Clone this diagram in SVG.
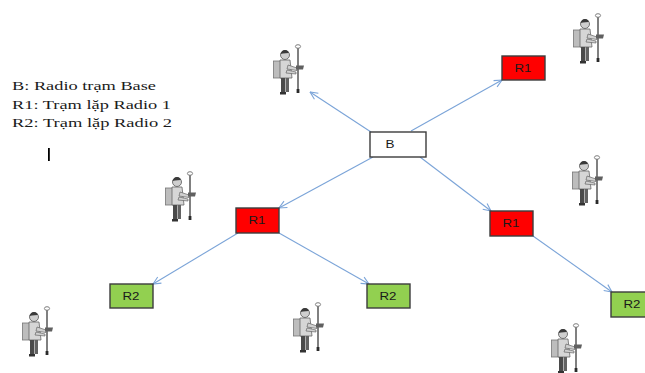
<svg xmlns="http://www.w3.org/2000/svg" width="645" height="373" viewBox="0 0 645 373">
  <style>
    .legend { font-family: "Liberation Serif", "Times New Roman", serif; font-size: 12.5px; fill: #1a1a1a; }
    .box { stroke: #3c3c3c; stroke-width: 1.4; }
    .base { fill: #ffffff; }
    .rep1 { fill: #ff0000; }
    .rep2 { fill: #92d050; }
    .lbl { font-family: "Liberation Sans", Arial, sans-serif; font-size: 10.5px; fill: #1a1a1a; text-anchor: middle; }
    .link { stroke: #7ba4d8; stroke-width: 1.1; fill: none; marker-end: url(#arrow); }
  </style>
  <defs>
    <marker id="arrow" viewBox="0 0 10 10" refX="9.5" refY="5" markerWidth="9" markerHeight="9" markerUnits="userSpaceOnUse" orient="auto">
      <path d="M1,1 L9.5,5 L1,9" fill="none" stroke="#7ba4d8" stroke-width="1.2"/>
    </marker>
    <!-- surveyor holding a GNSS pole -->
    <g id="surveyor">
      <line x1="28" y1="5" x2="28" y2="48" stroke="#6a6a6a" stroke-width="1.7"/>
      <ellipse cx="28" cy="3.5" rx="2.6" ry="1.8" fill="none" stroke="#808080" stroke-width="1"/>
      <rect x="26.6" y="46" width="2.8" height="4" fill="#2a2a2a"/>
      <rect x="3.5" y="18" width="7.5" height="17" fill="#bdbdbd" stroke="#777" stroke-width="0.8"/>
      <path d="M10,17 L20,17 L22,35 L10,35 Z" fill="#d6d6d6" stroke="#666" stroke-width="0.8"/>
      <circle cx="15" cy="12" r="4.5" fill="#cfcfcf" stroke="#555" stroke-width="0.8"/>
      <path d="M10.6,11 Q12,6.3 16.5,7.3 Q19.2,8.5 18.7,10 L13,10.5 Z" fill="#3a3a3a"/>
      <path d="M18,22 L27,25 L27,27.5 L17,26 Z" fill="#d0d0d0" stroke="#666" stroke-width="0.7"/>
      <path d="M17,27 L26,29 L26,31 L16,30 Z" fill="#d0d0d0" stroke="#666" stroke-width="0.7"/>
      <path d="M26,22.5 L34,22.5 L33,26.5 L26,26.5 Z" fill="#606060"/>
      <rect x="11" y="35" width="4" height="15" fill="#4a4a4a"/>
      <rect x="15.5" y="35" width="3.5" height="14" fill="#626262"/>
      <rect x="10" y="49" width="6" height="2.5" fill="#333"/>
    </g>
  </defs>

  <!-- legend -->
  <g id="legend">
    <text class="legend" x="12" y="90" textLength="144" lengthAdjust="spacingAndGlyphs">B: Radio trạm Base</text>
    <text class="legend" x="12" y="109" textLength="159" lengthAdjust="spacingAndGlyphs">R1: Trạm lặp Radio 1</text>
    <text class="legend" x="12" y="127" textLength="160" lengthAdjust="spacingAndGlyphs">R2: Trạm lặp Radio 2</text>
    <rect x="48" y="148" width="1.8" height="13" fill="#000"/>
  </g>

  <!-- surveyors in the field -->
  <g id="surveyors">
    <use href="#surveyor" transform="translate(270,43)"/>
    <use href="#surveyor" transform="translate(570,12)"/>
    <use href="#surveyor" transform="translate(569,154)"/>
    <use href="#surveyor" transform="translate(162,170)"/>
    <use href="#surveyor" transform="translate(19,305)"/>
    <use href="#surveyor" transform="translate(290,301)"/>
    <use href="#surveyor" transform="translate(548,322)"/>
  </g>

  <!-- radio links -->
  <g id="connectors">
    <line class="link" x1="371" y1="132" x2="310" y2="92"/>
    <line class="link" x1="411" y1="131" x2="502" y2="80"/>
    <line class="link" x1="373" y1="157" x2="279" y2="208"/>
    <line class="link" x1="420" y1="157" x2="491" y2="211"/>
    <line class="link" x1="238" y1="233" x2="153" y2="284"/>
    <line class="link" x1="279" y1="233" x2="369" y2="284"/>
    <line class="link" x1="533" y1="236" x2="612" y2="292"/>
  </g>

  <!-- stations -->
  <g id="node-B">
    <rect class="box base" x="370" y="132" width="56" height="25"/>
    <text class="lbl" x="390" y="148" textLength="9" lengthAdjust="spacingAndGlyphs">B</text>
  </g>
  <g id="node-R1-top">
    <rect class="box rep1" x="502" y="56" width="43" height="24"/>
    <text class="lbl" x="523" y="72" textLength="17" lengthAdjust="spacingAndGlyphs">R1</text>
  </g>
  <g id="node-R1-left">
    <rect class="box rep1" x="236" y="208" width="43" height="25"/>
    <text class="lbl" x="257" y="224" textLength="17" lengthAdjust="spacingAndGlyphs">R1</text>
  </g>
  <g id="node-R1-right">
    <rect class="box rep1" x="490" y="211" width="43" height="25"/>
    <text class="lbl" x="511" y="227" textLength="17" lengthAdjust="spacingAndGlyphs">R1</text>
  </g>
  <g id="node-R2-left">
    <rect class="box rep2" x="110" y="284" width="43" height="24"/>
    <text class="lbl" x="131" y="300" textLength="17" lengthAdjust="spacingAndGlyphs">R2</text>
  </g>
  <g id="node-R2-mid">
    <rect class="box rep2" x="367" y="284" width="43" height="24"/>
    <text class="lbl" x="388" y="300" textLength="17" lengthAdjust="spacingAndGlyphs">R2</text>
  </g>
  <g id="node-R2-right">
    <rect class="box rep2" x="611" y="292" width="43" height="25"/>
    <text class="lbl" x="632" y="308" textLength="17" lengthAdjust="spacingAndGlyphs">R2</text>
  </g>
</svg>
